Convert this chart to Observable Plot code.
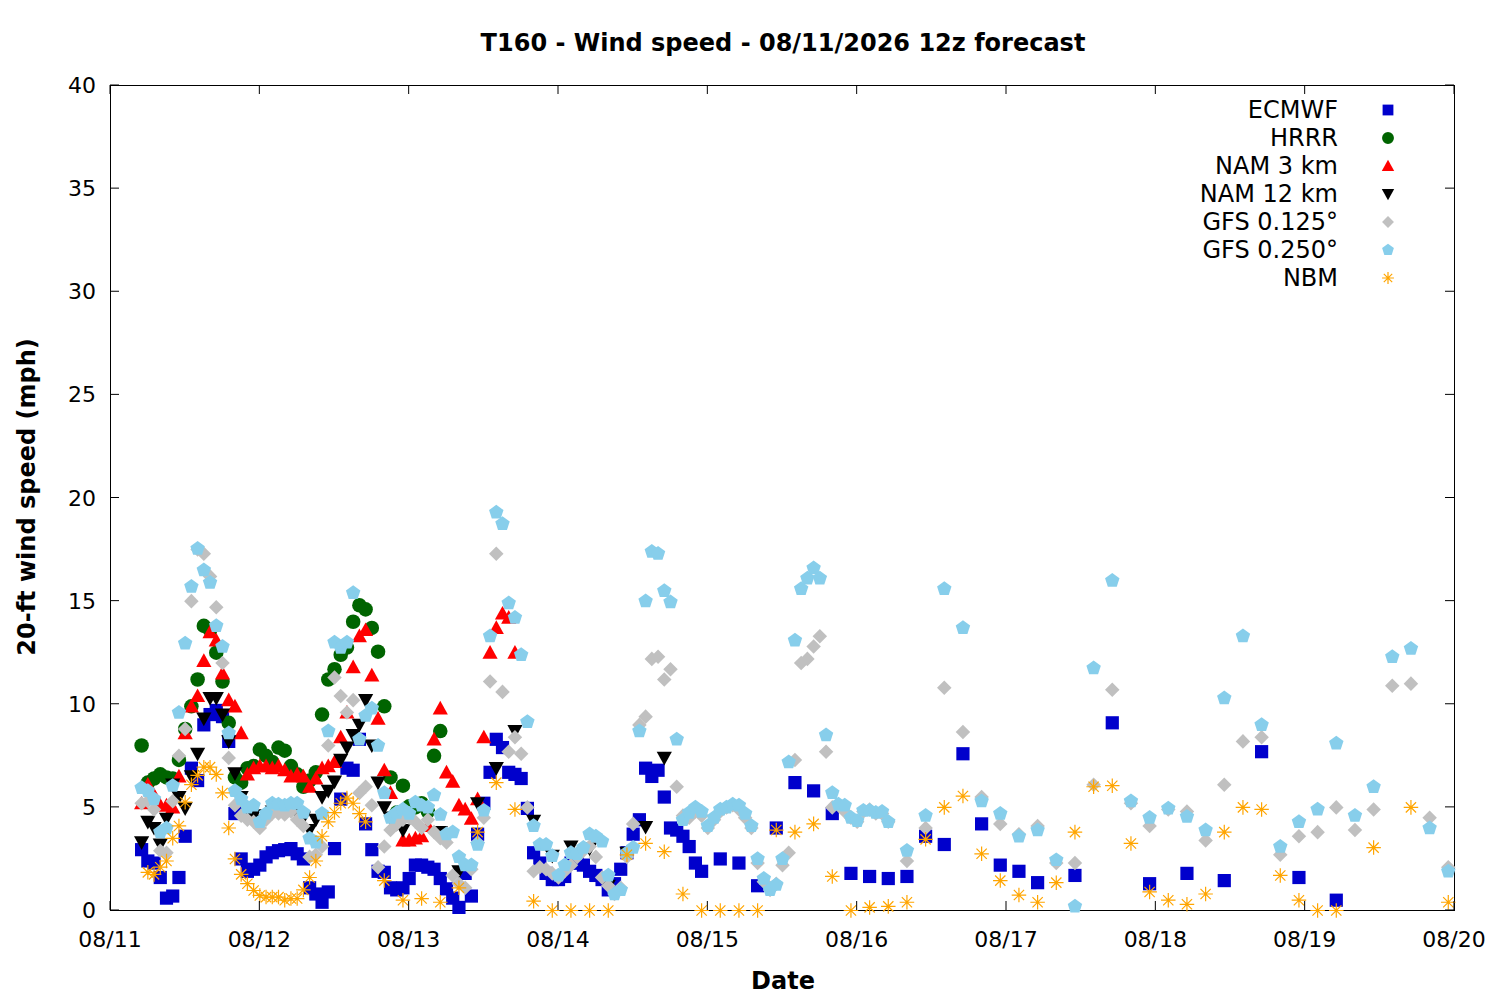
<!DOCTYPE html>
<html><head><meta charset="utf-8">
<script src="https://cdn.jsdelivr.net/npm/d3@7"></script>
<script src="https://cdn.jsdelivr.net/npm/@observablehq/plot@0.6"></script>
<style>body{margin:0;background:#fff;font-family:"DejaVu Sans",sans-serif}</style>
</head><body><div id="c"></div>
<script>
// hours since 08/11 00z
const dayLabels = ["08/11","08/12","08/13","08/14","08/15","08/16","08/17","08/18","08/19","08/20"];
const yTicks = [0,5,10,15,20,25,30,35,40];
const seriesNames = ["ECMWF","HRRR","NAM 3 km","NAM 12 km","GFS 0.125°","GFS 0.250°","NBM"];
const seriesColors = ["#0000cc","#006400","#ff0000","#000000","#c0c0c0","#87ceeb","#ffa500"];

// each segment: [startHour, stepHours, values]
const ecmwf = [
 [5,1,[2.95,2.4,2.3,1.6,0.6,0.7,1.6,3.6,6.9,6.3,9.0,9.5,9.7,9.4,8.2,4.7,2.5,1.9,2.0,2.2,2.6,2.8,2.9,2.95,3.0,2.75,2.5,1.1,0.8,0.4,0.9,3.0,5.4,6.9,6.8,8.3,4.2,2.95,1.9,1.85,1.1,1.0,1.1,1.55,2.2,2.2,2.1,2.0,1.55,1.05,0.6,0.15,1.8,0.7,3.7,5.2,6.7,8.3,7.9,6.7,6.6,6.4,4.95,2.8,2.3,1.8,1.5,1.5,1.65,2.3,2.3,2.2,1.9,1.7,1.5,1.0,1.3,2.0,2.8,3.7,4.4,6.9,6.5,6.8,5.5,4.0,3.9,3.6,3.1,2.3,1.9]],
 [98,3,[2.5,2.3,1.2,4.0,6.2,5.8,4.7,1.8,1.65,1.55,1.65,3.6,3.2,7.6,4.2,2.2,1.9,1.35]],
 [155,6,[1.7,9.1,1.3,1.8,1.45,7.7,1.6,0.5]]
];
const hrrr = [
 [5,1,[8.0,6.2,6.4,6.6,6.45,6.4,7.3,8.8,9.9,11.2,13.8,13.6,12.5,11.1,9.1,6.45,6.2,6.9,7.0,7.8,7.5,7.2,7.9,7.75,7.0,6.6,6.0,6.3,6.7,9.5,11.2,11.7,12.4,12.75,14.0,14.8,14.6,13.7,12.55,9.9,6.45,4.75,6.05,5.05,5.0,5.2,4.8,7.5,8.7]]
];
const nam3 = [
 [5,1,[5.2,6.1,5.6,5.1,5.1,5.0,6.5,8.6,9.9,10.4,12.1,13.5,13.1,11.5,10.2,9.9,8.6,6.6,6.9,7.0,7.0,6.9,7.0,6.8,6.5,6.6,6.5,6.0,6.4,6.9,7.0,7.2,8.4,9.6,11.8,13.3,13.6,11.4,9.3,6.8,5.7,4.4,3.4,3.4,3.5,3.6,4.1,8.3,9.8,6.7,6.25,5.1,4.9,4.45,5.4,8.4,12.5,13.7,14.4,14.2,12.5]]
];
const nam12 = [
 [5,1,[3.3,4.3,4.0,3.2,4.45,6.1,5.5,4.95,6.5,7.6,9.3,10.3,10.3,9.5,8.2,6.65,5.5,4.8,4.6,4.35,4.6,4.8,4.8,4.9,4.9,4.7,4.5,3.9,4.4,5.5,5.8,6.25,7.3,7.9,8.5,9.0,10.2,8.0,6.2,5.0,4.5,4.2,3.9]],
 [53,3,[3.8,1.9,5.2,6.9,8.7,4.35,2.65,3.1,3.0,1.2,2.8,4.05,7.4]]
];
const gfs125 = [
 [5,1,[5.2,5.3,4.9,2.9,2.8,5.3,7.5,8.8,15.0,17.5,17.3,16.2,14.7,12.0,7.4,5.1,4.6,4.4,4.3,4.0,4.4,4.7,4.7,4.65,4.8,4.4,4.1,2.6,2.7,3.1,8.0,11.3,10.4,9.6,10.2,5.7,6.0,5.1,2.1,3.1,3.9,4.2,4.4,4.5,4.3,4.0,4.4,3.8,3.5,3.3,1.7,1.3,1.1,2.0,3.3,4.5,11.1,17.3,10.6,7.7,8.4,7.6,5.0,1.9,2.1,2.0,1.8,1.6,1.9,2.2,2.6,2.9,3.1,2.6,1.6,1.2,0.8,1.1,2.6,4.2,9.0,9.4,12.2,12.3,11.2,11.7,6.0,4.6,4.5,4.8,4.6,4.0,4.4,4.8,5.0,5.1,4.9,4.5,4.0,2.3,1.4,1.0,1.3,2.2,2.8,7.3,12.0,12.2,12.8,13.3,7.7,5.0,5.1,4.8,4.5,4.3,4.8,4.9,4.7,4.7,4.3]],
 [128,3,[2.4,4.0,10.8,8.65,5.5,4.2,3.7,4.1,2.3,2.3,6.1,10.7,5.2,4.1,4.9,4.8,3.4,6.1,8.2,8.4,2.7,3.6,3.8,5.0,3.9,4.9,10.9,11.0,4.5,2.1]]
];
const gfs250 = [
 [5,1,[5.95,5.8,5.4,3.8,4.0,6.05,9.6,12.95,15.7,17.55,16.5,15.9,13.8,12.8,8.6,5.8,5.4,5.0,5.1,4.3,4.7,5.2,5.15,5.1,5.2,5.2,4.75,3.5,3.3,4.7,8.7,13.0,12.75,13.0,15.4,8.3,9.45,9.8,8.0,5.7,4.5,4.75,4.9,4.7,5.25,5.1,5.0,5.6,4.65,3.7,3.8,2.6,2.2,2.2,3.2,4.85,13.3,19.3,18.75,14.9,14.2,12.4,9.15,4.1,3.2,3.2,2.65,1.7,2.2,2.8,2.75,3.05,3.7,3.6,3.35,1.7,0.8,1.0,2.8,3.05,8.7,15.0,17.4,17.3,15.5,14.95,8.3,4.4,4.75,5.0,4.8,4.1,4.5,4.9,5.0,5.15,5.1,4.7,4.1,2.5,1.55,1.0,1.25,2.5,7.2,13.1,15.6,16.1,16.6,16.1,8.5,5.7,5.15,5.1,4.5,4.35,4.85,4.85,4.75,4.8,4.3]],
 [128,3,[2.9,4.6,15.6,13.7,5.3,4.7,3.6,3.9,2.45,0.2,11.75,16.0,5.3,4.5,4.95,4.55,3.9,10.3,13.3,9.0,3.1,4.3,4.9,8.1,4.6,6.0,12.3,12.7,4.0,1.9]]
];
const nbm = [
 [6,1,[1.85,1.75,2.1,2.4,3.5,4.1,5.25,6.1,6.55,6.95,6.95,6.6,5.7,4.0,2.5,1.75,1.3,0.97,0.73,0.65,0.65,0.65,0.5,0.58,0.58,1.0,1.6,2.4,3.6,4.3,4.75,5.2,5.45,5.2,4.7,4.3]],
 [44,3,[1.45,0.5,0.58,0.4,1.1,3.8,6.2,4.9,0.45,0,0,0,0,2.7,3.25,2.85,0.8,0,0,0,0,3.9,3.8,4.2,1.65,0,0.15,0.2,0.4,3.45,5.0,5.55,2.75,1.45,0.75,0.4,1.35,3.8,6.0,6.05,3.25,0.9,0.5,0.3,0.8,3.8,5.0,4.9,1.7,0.5,0,0]],
 [203,6,[3.05,5.0,0.4]]
];

const all = [ecmwf,hrrr,nam3,nam12,gfs125,gfs250,nbm];
const rows = [];
all.forEach((segs,si)=>segs.forEach(([s,st,vals])=>vals.forEach((v,i)=>rows.push({h:s+st*i,v,s:si}))));

const rOf = size => Math.sqrt(size/Math.PI);
const sq = {draw(ctx,size){const r=rOf(size);ctx.rect(-r,-r,2*r,2*r);}};
const circ = {draw(ctx,size){const r=rOf(size)*1.1;ctx.moveTo(r,0);ctx.arc(0,0,r,0,2*Math.PI);}};
const triUp = {draw(ctx,size){const r=rOf(size)*1.15;ctx.moveTo(-r,r*0.8);ctx.lineTo(r,r*0.8);ctx.lineTo(0,-r);ctx.closePath();}};
const triDown = {draw(ctx,size){const r=rOf(size)*1.15;ctx.moveTo(-r,-r*0.8);ctx.lineTo(r,-r*0.8);ctx.lineTo(0,r);ctx.closePath();}};
const diam = {draw(ctx,size){const r=rOf(size)*1.1;ctx.moveTo(0,-r);ctx.lineTo(r,0);ctx.lineTo(0,r);ctx.lineTo(-r,0);ctx.closePath();}};
const pent = {draw(ctx,size){const r=rOf(size)*1.15;for(let k=0;k<5;k++){const a=-Math.PI/2+k*2*Math.PI/5;const x=r*Math.cos(a),y=r*Math.sin(a);k?ctx.lineTo(x,y):ctx.moveTo(x,y);}ctx.closePath();}};
const star = {draw(ctx,size){const r=rOf(size)*1.1;for(let k=0;k<4;k++){const a=k*Math.PI/4;ctx.moveTo(r*Math.cos(a),r*Math.sin(a));ctx.lineTo(-r*Math.cos(a),-r*Math.sin(a));}}};
const symbols = [sq,circ,triUp,triDown,diam,pent,star];
const R = 6.6, RL = 5.4;

const W=1500,H=1000,ML=110,MR=46,MT=85,MB=90;
const marks = [Plot.frame({stroke:"black"})];
for (let si=0; si<7; si++){
  const d = rows.filter(r=>r.s===si);
  if (si===6) marks.push(Plot.dot(d,{x:"h",y:"v",symbol:()=>symbols[si],r:R,stroke:seriesColors[si],strokeWidth:1.2,fill:"none"}));
  else marks.push(Plot.dot(d,{x:"h",y:"v",symbol:()=>symbols[si],r:R,fill:seriesColors[si],stroke:"none"}));
}
const chart = Plot.plot({
  width:W,height:H,marginLeft:ML,marginRight:MR,marginTop:MT,marginBottom:MB,
  style:{fontFamily:"DejaVu Sans",fontSize:"20px",background:"white"},
  x:{type:"linear",domain:[0,216],axis:null},
  y:{domain:[0,40],axis:null},
  symbol:{type:"identity"},
  marks
});
document.getElementById("c").appendChild(chart);
const svg = d3.select(chart);
const xs=chart.scale("x"), ys=chart.scale("y");
const g=svg.append("g").attr("font-family","DejaVu Sans");
dayLabels.forEach((lab,i)=>{
  const x=xs.apply(i*24);
  g.append("line").attr("x1",x).attr("x2",x).attr("y1",H-MB).attr("y2",H-MB-9).attr("stroke","black");
  g.append("line").attr("x1",x).attr("x2",x).attr("y1",MT).attr("y2",MT+9).attr("stroke","black");
  g.append("text").attr("x",x).attr("y",H-MB+37).attr("text-anchor","middle").attr("font-size",22).text(lab);
});
yTicks.forEach(v=>{
  const y=ys.apply(v);
  g.append("line").attr("x1",ML).attr("x2",ML+9).attr("y1",y).attr("y2",y).attr("stroke","black");
  g.append("line").attr("x1",W-MR).attr("x2",W-MR-9).attr("y1",y).attr("y2",y).attr("stroke","black");
  g.append("text").attr("x",ML-14).attr("y",y+8).attr("text-anchor","end").attr("font-size",22).text(v);
});
g.append("text").attr("x",783).attr("y",51).attr("text-anchor","middle").attr("font-size",24).attr("font-weight","bold").text("T160 - Wind speed - 08/11/2026 12z forecast");
g.append("text").attr("x",783).attr("y",989).attr("text-anchor","middle").attr("font-size",24).attr("font-weight","bold").text("Date");
g.append("text").attr("transform","translate(35,497) rotate(-90)").attr("text-anchor","middle").attr("font-size",24).attr("font-weight","bold").text("20-ft wind speed (mph)");
seriesNames.forEach((n,i)=>{
  const y=110+i*28;
  g.append("text").attr("x",1338).attr("y",y+8).attr("text-anchor","end").attr("font-size",24).text(n);
  const s=g.append("path").attr("d",d3.symbol(symbols[i],Math.PI*RL*RL)()).attr("transform",`translate(1388,${y})`);
  if(i===6) s.attr("fill","none").attr("stroke",seriesColors[i]).attr("stroke-width",1.2); else s.attr("fill",seriesColors[i]);
});
</script></body></html>
